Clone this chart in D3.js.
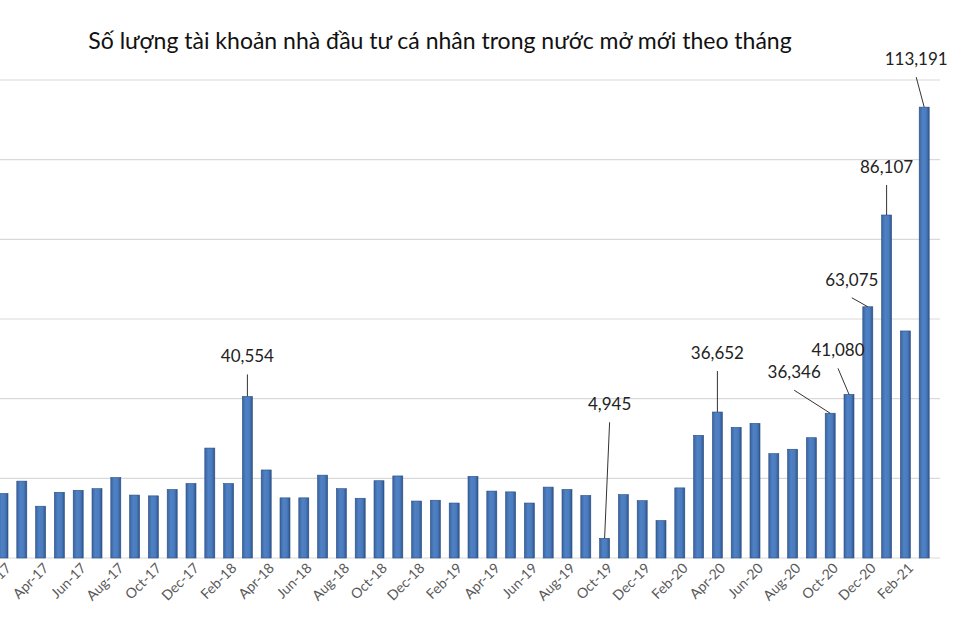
<!DOCTYPE html>
<html><head><meta charset="utf-8">
<script src="https://cdn.jsdelivr.net/npm/d3@7"></script>
<style>body{margin:0;background:#fff}svg{display:block}</style>
</head><body>
<svg id="c" width="960" height="640"></svg>
<script>
const months = ["Feb-17","Mar-17","Apr-17","May-17","Jun-17","Jul-17","Aug-17","Sep-17","Oct-17","Nov-17","Dec-17",
"Jan-18","Feb-18","Mar-18","Apr-18","May-18","Jun-18","Jul-18","Aug-18","Sep-18","Oct-18","Nov-18","Dec-18",
"Jan-19","Feb-19","Mar-19","Apr-19","May-19","Jun-19","Jul-19","Aug-19","Sep-19","Oct-19","Nov-19","Dec-19",
"Jan-20","Feb-20","Mar-20","Apr-20","May-20","Jun-20","Jul-20","Aug-20","Sep-20","Oct-20","Nov-20","Dec-20",
"Jan-21","Feb-21","Mar-21"];
const values = [16200,19300,13000,16500,17000,17400,20200,15800,15600,17200,18700,
27600,18700,40554,22100,15100,15100,20800,17400,15000,19400,20600,14300,
14500,13800,20500,16800,16600,13800,17800,17200,15700,4945,15900,14400,
9400,17600,30800,36652,32800,33800,26200,27300,30200,36346,41080,63075,
86107,57000,113191];
const tickLabels = months.filter((m,i)=>i%2===0);
const annotations = [
 {m:"Mar-18", text:"40,554", dx:0, dy:-34},
 {m:"Oct-19", text:"4,945", dx:5, dy:-128},
 {m:"Apr-20", text:"36,652", dx:0, dy:-53},
 {m:"Oct-20", text:"36,346", dx:-36, dy:-35},
 {m:"Nov-20", text:"41,080", dx:-11, dy:-38},
 {m:"Dec-20", text:"63,075", dx:-16, dy:-21},
 {m:"Jan-21", text:"86,107", dx:0, dy:-42},
 {m:"Mar-21", text:"113,191", dx:-8, dy:-42}
];
const svg = d3.select("#c");
const step = 18.8, first = 3;
const x = d3.scaleBand().domain(months)
  .range([first - step/2, first - step/2 + step*months.length]).padding(0);
const bw = 10;
const y = d3.scaleLinear().domain([0,120000]).range([558,80]);
const defs = svg.append("defs");
const g = defs.append("linearGradient").attr("id","bg").attr("x1","0").attr("x2","1");
g.append("stop").attr("offset","0").attr("stop-color","#3a64a0");
g.append("stop").attr("offset","0.35").attr("stop-color","#4f81c4");
g.append("stop").attr("offset","0.7").attr("stop-color","#4a7bbd");
g.append("stop").attr("offset","1").attr("stop-color","#2e568f");

svg.append("g").selectAll("line").data(d3.range(0,120001,20000)).join("line")
  .attr("x1",0).attr("x2",940).attr("y1",d=>y(d)).attr("y2",d=>y(d))
  .attr("stroke","#d9d9d9").attr("stroke-width",1.2);

const xc = m => x(m) + x.bandwidth()/2;
svg.append("g").selectAll("rect").data(months).join("rect")
  .attr("x",d=>xc(d)-bw/2).attr("width",bw)
  .attr("y",(d,i)=>y(values[i])).attr("height",(d,i)=>558-y(values[i]))
  .attr("fill","url(#bg)").attr("stroke","#2b4d80").attr("stroke-width",0.6);

const ax = svg.append("g").attr("transform","translate(0,566)")
  .call(d3.axisBottom(x).tickValues(tickLabels).tickSize(0).tickPadding(0));
ax.select(".domain").remove();
ax.selectAll("text").attr("fill","#595959").attr("font-size",14)
  .attr("font-family","Lato, sans-serif")
  .attr("text-anchor","end").attr("dx","0.3em").attr("dy","0.6em")
  .attr("transform","rotate(-45)");

const an = svg.append("g");
annotations.forEach(a=>{
  const i = months.indexOf(a.m);
  const bx = xc(a.m), by = y(values[i]);
  const lx = bx + a.dx, ly = by + a.dy;
  an.append("line").attr("x1",bx).attr("y1",by).attr("x2",lx).attr("y2",ly+12)
    .attr("stroke","#333").attr("stroke-width",1);
  an.append("text").attr("x",lx).attr("y",ly).attr("text-anchor","middle")
    .attr("font-family","Lato, sans-serif")
    .attr("font-size",17).attr("fill","#222").text(a.text);
});

svg.append("text").attr("x",440).attr("y",49).attr("text-anchor","middle")
  .attr("font-family","Lato, sans-serif")
  .attr("font-size",23).attr("fill","#111")
  .text("Số lượng tài khoản nhà đầu tư cá nhân trong nước mở mới theo tháng");
</script>
</body></html>
